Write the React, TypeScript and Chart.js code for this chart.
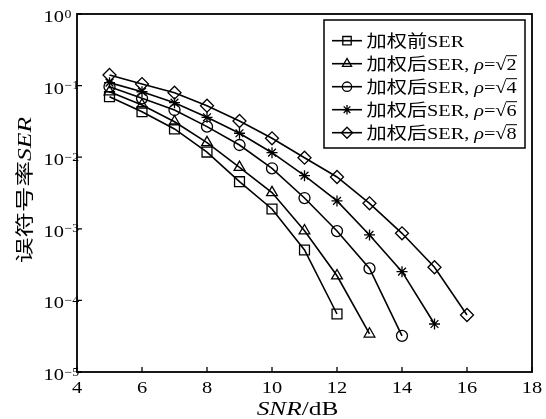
import React, { useEffect, useRef } from 'react';
import { Chart, registerables } from 'chart.js';

Chart.register(...registerables);

// ---------- data ----------
const snr = [5, 6, 7, 8, 9, 10, 11, 12, 13, 14, 15, 16];
const serBefore = [0.070, 0.0432, 0.0248, 0.0118, 0.00455, 0.00189, 5.06e-4, 6.46e-5];
const serRho2 = [0.082, 0.0536, 0.0313, 0.0160, 0.00723, 0.00321, 9.4e-4, 2.21e-4, 3.4e-5];
const serRho4 = [0.0966, 0.0665, 0.0456, 0.0267, 0.0148, 0.0070, 0.00269, 9.3e-4, 2.8e-4, 3.2e-5];
const serRho6 = [0.110, 0.082, 0.0577, 0.0361, 0.0216, 0.01156, 0.00552, 0.00245, 8.2e-4, 2.52e-4, 4.68e-5];
const serRho8 = [0.1406, 0.105, 0.0796, 0.0524, 0.032, 0.01836, 0.00984, 0.00529, 0.00227, 8.65e-4, 2.9e-4, 6.25e-5];

const xTicks = [4, 6, 8, 10, 12, 14, 16, 18];
const yExponents = [0, -1, -2, -3, -4, -5];
const seriesValues = [serBefore, serRho2, serRho4, serRho6, serRho8];
const legendPrefix = ['加权前', '加权后', '加权后', '加权后', '加权后'];
const rhoRoots = ['', '2', '4', '6', '8'];
const markerStyles = ['rect', 'triangle', 'circle', 'star', 'rectRot'];
const markerRadii = [7, 6.2, 5.5, 5.5, 6.5];

const SERIF = '"Liberation Serif", "Times New Roman", serif';
const CJK = '"Noto Sans CJK SC", sans-serif';

type Run = { t: string; f: string };

function runsWidth(ctx: CanvasRenderingContext2D, runs: Run[]) {
  let w = 0;
  for (const r of runs) {
    ctx.font = r.f;
    w += ctx.measureText(r.t).width;
  }
  return w;
}

function drawRuns(
  ctx: CanvasRenderingContext2D,
  runs: Run[],
  x: number,
  y: number,
  align: 'left' | 'center' | 'right',
  sx: number
) {
  const w = runsWidth(ctx, runs) * sx;
  let x0 = x;
  if (align === 'center') x0 = x - w / 2;
  if (align === 'right') x0 = x - w;
  ctx.save();
  ctx.translate(x0, y);
  ctx.scale(sx, 1);
  ctx.textAlign = 'left';
  ctx.textBaseline = 'alphabetic';
  let cx = 0;
  for (const r of runs) {
    ctx.font = r.f;
    ctx.fillText(r.t, cx, 0);
    cx += ctx.measureText(r.t).width;
  }
  ctx.restore();
  return w;
}

function drawMarker(ctx: CanvasRenderingContext2D, style: string, x: number, y: number, r: number) {
  ctx.beginPath();
  if (style === 'rect') {
    const s = Math.SQRT1_2 * r;
    ctx.rect(x - s, y - s, 2 * s, 2 * s);
  } else if (style === 'triangle') {
    for (let i = 0; i < 3; i++) {
      const a = (i * 2 * Math.PI) / 3;
      const px = x + Math.sin(a) * r;
      const py = y - Math.cos(a) * r;
      if (i === 0) ctx.moveTo(px, py);
      else ctx.lineTo(px, py);
    }
    ctx.closePath();
  } else if (style === 'circle') {
    ctx.arc(x, y, r, 0, Math.PI * 2);
  } else if (style === 'star') {
    for (let i = 0; i < 4; i++) {
      const a = (i * Math.PI) / 4;
      ctx.moveTo(x - Math.cos(a) * r, y - Math.sin(a) * r);
      ctx.lineTo(x + Math.cos(a) * r, y + Math.sin(a) * r);
    }
  } else if (style === 'rectRot') {
    ctx.moveTo(x, y - r);
    ctx.lineTo(x + r, y);
    ctx.lineTo(x, y + r);
    ctx.lineTo(x - r, y);
    ctx.closePath();
  }
  ctx.stroke();
}

const decorPlugin = {
  id: 'decor',
  afterDraw(chart: any) {
    const ctx: CanvasRenderingContext2D = chart.ctx;
    const { left, top, right, bottom } = chart.chartArea;
    const xs = chart.scales.x;
    const ys = chart.scales.y;
    ctx.save();
    ctx.strokeStyle = '#000';
    ctx.fillStyle = '#000';

    // frame
    ctx.lineWidth = 1.8;
    ctx.strokeRect(left, top, right - left, bottom - top);

    // ticks
    ctx.lineWidth = 1.3;
    ctx.beginPath();
    for (const v of xTicks) {
      const px = xs.getPixelForValue(v);
      ctx.moveTo(px, bottom);
      ctx.lineTo(px, bottom - 5);
    }
    for (const e of yExponents) {
      const py = ys.getPixelForValue(Math.pow(10, e));
      ctx.moveTo(left, py);
      ctx.lineTo(left + 5, py);
    }
    ctx.stroke();

    // x tick labels
    for (const v of xTicks) {
      const px = xs.getPixelForValue(v);
      drawRuns(ctx, [{ t: String(v), f: `17px ${SERIF}` }], px, 393, 'center', 1.2);
    }
    // y tick labels
    for (const e of yExponents) {
      const py = ys.getPixelForValue(Math.pow(10, e));
      drawRuns(ctx, [{ t: '10', f: `17px ${SERIF}` }], 64, py + 8, 'right', 1.2);
      const sup = e === 0 ? '0' : '\u2212' + String(-e);
      drawRuns(ctx, [{ t: sup, f: `12px ${SERIF}` }], 64.5, py + 3.5, 'left', 1.15);
    }

    // x title
    {
      const runs: Run[] = [
        { t: 'SNR', f: `italic 18px ${SERIF}` },
        { t: '/dB', f: `18px ${SERIF}` },
      ];
      const w = runsWidth(ctx, runs);
      drawRuns(ctx, runs, 297.5, 415, 'center', 81.7 / w);
    }
    // y title
    {
      const runs: Run[] = [
        { t: '误符号率', f: `18px ${CJK}` },
        { t: 'SER', f: `italic 18px ${SERIF}` },
      ];
      const w = runsWidth(ctx, runs);
      ctx.save();
      ctx.translate(31, 190);
      ctx.rotate(-Math.PI / 2);
      drawRuns(ctx, runs, 0, 0, 'center', 146 / w);
      ctx.restore();
    }

    // legend
    const lx = 324, ly = 20, lw = 201, lh = 128;
    ctx.fillStyle = '#fff';
    ctx.fillRect(lx, ly, lw, lh);
    ctx.lineWidth = 1.5;
    ctx.strokeRect(lx, ly, lw, lh);
    ctx.fillStyle = '#000';
    const rowRuns = (i: number): Run[] => {
      const r: Run[] = [
        { t: legendPrefix[i], f: `17px ${CJK}` },
        { t: i === 0 ? 'SER' : 'SER, ', f: `17px ${SERIF}` },
      ];
      if (rhoRoots[i]) {
        r.push({ t: 'ρ', f: `italic 17px ${SERIF}` });
        r.push({ t: '=', f: `17px ${SERIF}` });
      }
      return r;
    };
    const sample = rowRuns(1);
    ctx.font = `17px ${SERIF}`;
    const radW = ctx.measureText('\u221A').width + ctx.measureText('2').width;
    const legSx = 150 / (runsWidth(ctx, sample) + radW);
    for (let i = 0; i < seriesValues.length; i++) {
      const cy = 40.7 + i * 23;
      ctx.lineWidth = 1.6;
      ctx.beginPath();
      ctx.moveTo(332, cy);
      ctx.lineTo(362, cy);
      ctx.stroke();
      ctx.lineWidth = 1.3;
      drawMarker(ctx, markerStyles[i], 347, cy, markerRadii[i] * 0.85);
      const base = cy + 6;
      const w = drawRuns(ctx, rowRuns(i), 366.5, base, 'left', legSx);
      if (rhoRoots[i]) {
        const x0 = 366.5 + w;
        ctx.font = `17px ${SERIF}`;
        const rw = ctx.measureText('\u221A').width * legSx;
        const dw = ctx.measureText(rhoRoots[i]).width * legSx;
        drawRuns(ctx, [{ t: '\u221A', f: `17px ${SERIF}` }], x0, base, 'left', legSx);
        drawRuns(ctx, [{ t: rhoRoots[i], f: `17px ${SERIF}` }], x0 + rw, base, 'left', legSx);
        ctx.lineWidth = 1;
        ctx.beginPath();
        ctx.moveTo(x0 + rw - 0.5, base - 14);
        ctx.lineTo(x0 + rw + dw + 0.5, base - 14);
        ctx.stroke();
      }
    }
    ctx.restore();
  },
};

export default function App() {
  const ref = useRef<HTMLCanvasElement | null>(null);
  useEffect(() => {
    if (!ref.current) return;
    const datasets = seriesValues.map((vals, i) => ({
      label: legendPrefix[i] + 'SER' + (rhoRoots[i] ? ', ρ=√' + rhoRoots[i] : ''),
      data: vals.map((v, k) => ({ x: snr[k], y: v })),
      borderColor: '#000',
      borderWidth: 1.6,
      backgroundColor: 'rgba(0,0,0,0)',
      pointStyle: markerStyles[i] as any,
      pointRadius: markerRadii[i],
      pointBorderWidth: 1.3,
      pointBorderColor: '#000',
      pointBackgroundColor: 'rgba(0,0,0,0)',
      tension: 0,
      fill: false,
    }));
    const chart = new Chart(ref.current, {
      type: 'line',
      data: { datasets },
      options: {
        responsive: false,
        animation: false,
        layout: { padding: { left: 77, top: 14, right: 14, bottom: 47 } },
        scales: {
          x: { type: 'linear', min: 4, max: 18, display: false },
          y: { type: 'logarithmic', min: 1e-5, max: 1, display: false },
        },
        plugins: { legend: { display: false }, tooltip: { enabled: false } },
      },
      plugins: [decorPlugin],
    });
    return () => chart.destroy();
  }, []);
  return (
    <div style={{ position: 'absolute', left: 0, top: 0, width: 546, height: 419, background: '#fff' }}>
      <canvas ref={ref} width={546} height={419} style={{ display: 'block', width: 546, height: 419 }} />
    </div>
  );
}
